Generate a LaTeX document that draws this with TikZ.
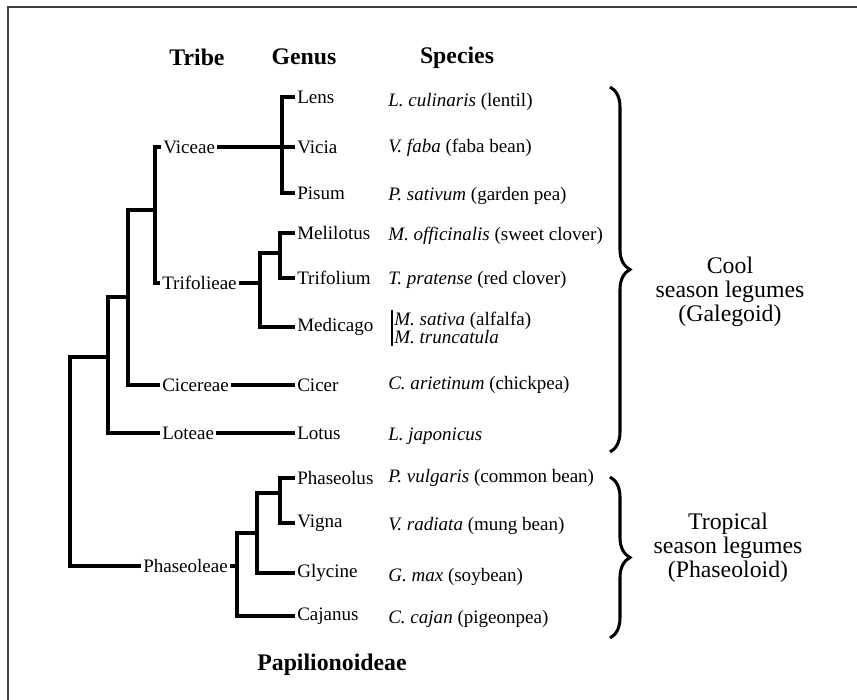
\documentclass[tikz,border=0pt]{standalone}
\usepackage{fontspec}
\setmainfont{Liberation Serif}
\usetikzlibrary{decorations.pathreplacing}

\begin{document}
\begin{tikzpicture}[x=0.5255pt,y=-0.5255pt,
    branch/.style={line width=1.6pt},
    label/.style={anchor=west,inner sep=1pt,font=\fontsize{10}{12}\selectfont},
    header/.style={inner sep=0pt,font=\fontsize{12.5}{15}\selectfont\bfseries},
    group/.style={align=center,inner sep=0pt,font=\fontsize{12.5}{12.6}\selectfont},
    bracket/.style={decorate,decoration={brace,amplitude=10.5pt},line width=1.6pt}]
              \useasboundingbox (0,0) rectangle (857,700);
              \draw[line width=1pt,color=black!75] (8,700) -- (8,7) -- (857,7);
              % column heads
              \node[header](tribehead)at(197,57){Tribe};
              \node[header](genushead)at(304,57){Genus};
              \node[header](specieshead)at(457,58){Species};
              \node[header](subfamily)at(332,665){Papilionoideae};
              % tribes
              \node[label](viceae)at(161,147){Viceae};
              \node[label](trifolieae)at(160,283){Trifolieae};
              \node[label](cicereae)at(160,385){Cicereae};
              \node[label](loteae)at(160,433){Loteae};
              \node[label](phaseoleae)at(141,566){Phaseoleae};
              % genera
              \node[label](lens)at(295,97){Lens};
              \node[label](vicia)at(295,147){Vicia};
              \node[label](pisum)at(295,193){Pisum};
              \node[label](melilotus)at(295,233){Melilotus};
              \node[label](trifolium)at(295,278){Trifolium};
              \node[label](medicago)at(295,327){Medicago};
              \node[label](cicer)at(295,385){Cicer};
              \node[label](lotus)at(295,433){Lotus};
              \node[label](phaseolus)at(295,478){Phaseolus};
              \node[label](vigna)at(295,523){Vigna};
              \node[label](glycine)at(295,573){Glycine};
              \node[label](cajanus)at(295,616){Cajanus};
              % species
              \node[label](lensp)at(386,102){\textit{L. culinaris} (lentil)};
              \node[label](vicsp)at(386,148){\textit{V. faba} (faba bean)};
              \node[label](pissp)at(386,196){\textit{P. sativum} (garden pea)};
              \node[label](melsp)at(386,236){\textit{M. officinalis} (sweet clover)};
              \node[label](trisp)at(386,280){\textit{T. pratense} (red clover)};
              \node[label,align=left,font=\fontsize{10}{9.5}\selectfont](medsp)at(392,328){\textit{M. sativa} (alfalfa)\\\textit{M. truncatula}};
              \draw[line width=0.8pt] (medsp.north west) -- (medsp.south west);
              \node[label](cicsp)at(386,385){\textit{C. arietinum} (chickpea)};
              \node[label](lotsp)at(386,436){\textit{L. japonicus}};
              \node[label](phasp)at(386,478){\textit{P. vulgaris} (common bean)};
              \node[label](vigsp)at(386,526){\textit{V. radiata} (mung bean)};
              \node[label](glysp)at(386,577){\textit{G. max} (soybean)};
              \node[label](cajsp)at(386,619){\textit{C. cajan} (pigeonpea)};
              % joints of the tree
              \coordinate (root) at (70,461);
              \coordinate (cool) at (108,357);
              \coordinate (vtc) at (128,297);
              \coordinate (vt) at (155,210);
              \coordinate (vic) at (282,147);
              \coordinate (tri) at (260,283);
              \coordinate (mel) at (280,253);
              \coordinate (pha) at (237,566);
              \coordinate (pvg) at (257,533);
              \coordinate (pv) at (280,493);
              % tribes
              \draw[branch] (root) |- (cool);
              \draw[branch] (root) |- (phaseoleae.west);
              \draw[branch] (cool) |- (vtc);
              \draw[branch] (cool) |- (loteae.west);
              \draw[branch] (vtc) |- (vt);
              \draw[branch] (vtc) |- (cicereae.west);
              \draw[branch] (vt) |- (viceae.west);
              \draw[branch] (vt) |- (trifolieae.west);
              % Viceae
              \draw[branch] (viceae.east) -- (vicia.west);
              \draw[branch] (lens.west) -| (vic) |- (pisum.west);
              % Trifolieae
              \draw[branch] (trifolieae.east) -- (tri);
              \draw[branch] (mel) -| (tri) |- (medicago.west);
              \draw[branch] (mel) |- (melilotus.west);
              \draw[branch] (mel) |- (trifolium.west);
              % Cicereae, Loteae
              \draw[branch] (cicereae.east) -- (cicer.west);
              \draw[branch] (loteae.east) -- (lotus.west);
              % Phaseoleae
              \draw[branch] (phaseoleae.east) -- (pha);
              \draw[branch] (pha) |- (pvg);
              \draw[branch] (pha) |- (cajanus.west);
              \draw[branch] (pvg) |- (pv);
              \draw[branch] (pvg) |- (glycine.west);
              \draw[branch] (pv) |- (phaseolus.west);
              \draw[branch] (pv) |- (vigna.west);
              % groups
              \coordinate (cooltop) at (610,87);
              \coordinate (coolbot) at (610,452);
              \coordinate (troptop) at (610,477);
              \coordinate (tropbot) at (610,638);
              \draw[bracket] (cooltop) -- (coolbot);
              \draw[bracket] (troptop) -- (tropbot);
              \node[group](coolgroup)at(730,292){Cool\\season legumes\\(Galegoid)};
              \node[group](tropgroup)at(728,548){Tropical\\season legumes\\(Phaseoloid)};
            \end{tikzpicture}
\end{document}
